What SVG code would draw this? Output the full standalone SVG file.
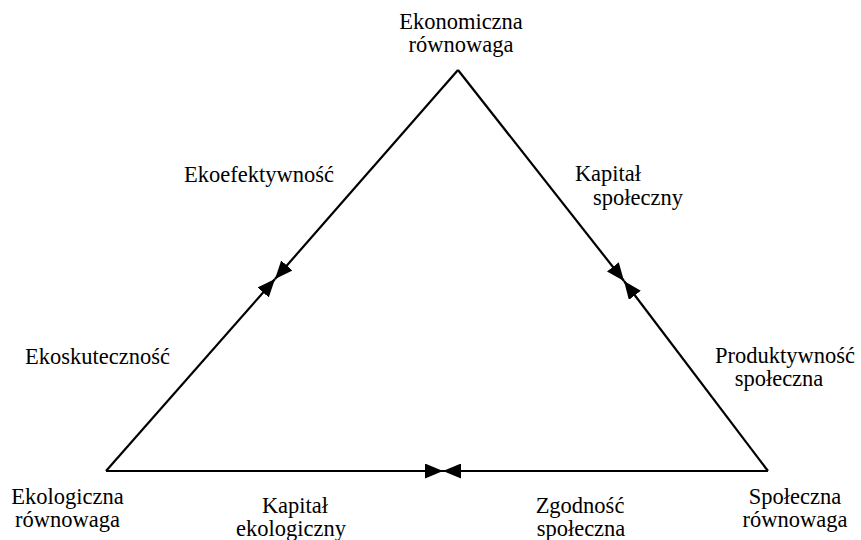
<svg xmlns="http://www.w3.org/2000/svg" width="861" height="540" viewBox="0 0 861 540">
<style>
.lbl text{font-family:"Liberation Serif","Times New Roman",serif;font-size:22.5px;fill:#000;text-anchor:middle}
.e{stroke:#000;stroke-width:2.2;fill:none}
</style>
<defs>
<marker id="ah" viewBox="0 0 18 15" refX="18" refY="7.5" markerWidth="18" markerHeight="15" markerUnits="userSpaceOnUse" orient="auto">
<path d="M0,0L18,7.5L0,15z" fill="#000"/>
</marker>
</defs>
<rect width="861" height="540" fill="#fff"/>
<g id="connectors">
<line class="e" x1="458" y1="70" x2="275" y2="279" marker-end="url(#ah)"/>
<line class="e" x1="106" y1="471" x2="275" y2="279" marker-end="url(#ah)"/>
<line class="e" x1="458" y1="70" x2="624" y2="281" marker-end="url(#ah)"/>
<line class="e" x1="768" y1="471" x2="624" y2="281" marker-end="url(#ah)"/>
<line class="e" x1="106" y1="471" x2="443" y2="471" marker-end="url(#ah)"/>
<line class="e" x1="768" y1="471" x2="443" y2="471" marker-end="url(#ah)"/>
</g>
<g class="lbl">
<g id="n-econ"><text x="461" y="29">Ekonomiczna</text><text x="461" y="52">równowaga</text></g>
<g id="n-ecol"><text x="67.5" y="504">Ekologiczna</text><text x="67.5" y="527">równowaga</text></g>
<g id="n-soc"><text x="795" y="504">Społeczna</text><text x="795" y="527">równowaga</text></g>
<g id="l-ekoef"><text x="259" y="182">Ekoefektywność</text></g>
<g id="l-kapspol"><text x="608" y="181">Kapitał</text><text x="638" y="205">społeczny</text></g>
<g id="l-ekosk"><text x="97.5" y="364">Ekoskuteczność</text></g>
<g id="l-prod"><text x="785" y="363">Produktywność</text><text x="779" y="386">społeczna</text></g>
<g id="l-kapekol"><text x="295" y="513">Kapitał</text><text x="291" y="536">ekologiczny</text></g>
<g id="l-zgod"><text x="580" y="513">Zgodność</text><text x="581" y="536">społeczna</text></g>
</g>
</svg>
